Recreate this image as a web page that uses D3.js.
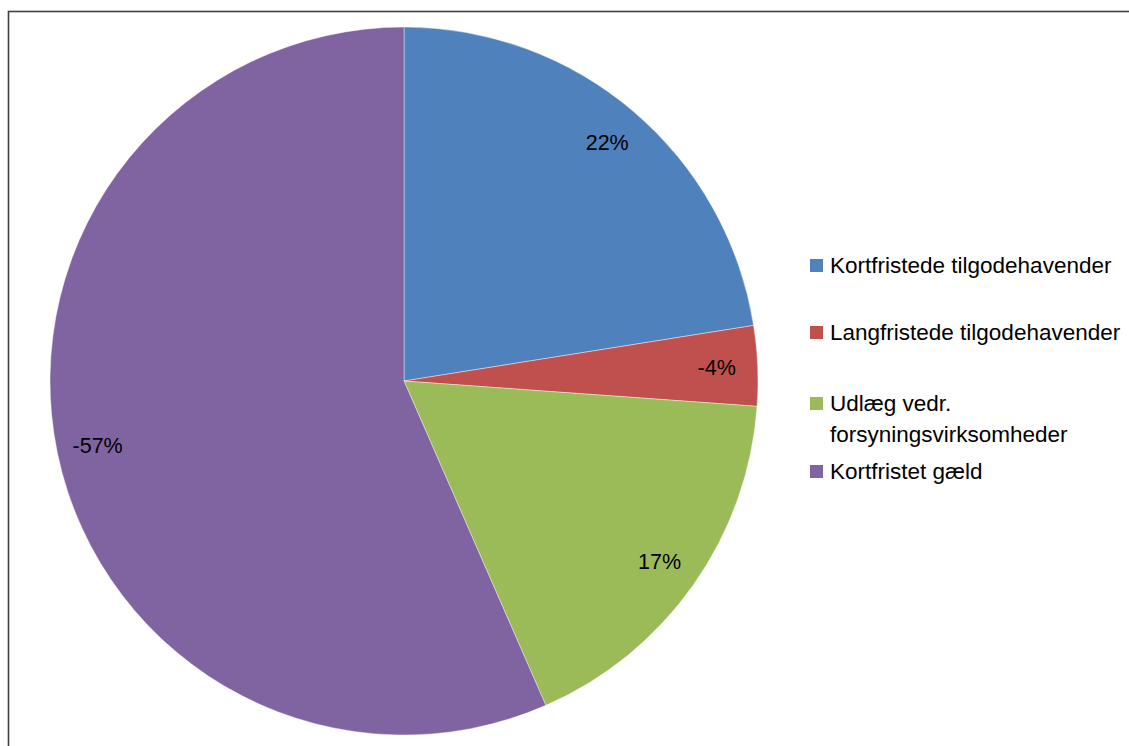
<!DOCTYPE html>
<html>
<head>
<meta charset="utf-8">
<script src="https://cdn.jsdelivr.net/npm/d3@7"></script>
<style>
  html, body { margin: 0; padding: 0; background: #fff; }
  svg { display: block; font-family: "Liberation Sans", Arial, sans-serif; }
</style>
</head>
<body>
<svg id="chart" width="1129" height="746"></svg>
<script>
var categories = ['Kortfristede tilgodehavender', 'Langfristede tilgodehavender', 'Udlæg vedr. forsyningsvirksomheder', 'Kortfristet gæld']
var legendLines = [['Kortfristede tilgodehavender'], ['Langfristede tilgodehavender'], ['Udlæg vedr.', 'forsyningsvirksomheder'], ['Kortfristet gæld']]
var values = [22.49, -3.65, 17.3, -56.56]
var colors = ['#4f81bd', '#c0504d', '#9bbb59', '#8064a2']

var svg = d3.select('#chart')

// chart frame (right and bottom run off the page)
svg.append('rect')
  .attr('x', 8.5).attr('y', 11.5)
  .attr('width', 1140).attr('height', 760)
  .attr('fill', 'none').attr('stroke', '#404040').attr('stroke-width', 1.6)

var cx = 404, cy = 381, r = 354

var pie = d3.pie().sort(null).value(d => Math.abs(d))
var arcs = pie(values)
var arc = d3.arc().innerRadius(0).outerRadius(r)
var labelArc = d3.arc().innerRadius(313).outerRadius(313)

var g = svg.append('g').attr('transform', `translate(${cx},${cy})`)

g.selectAll('path.slice')
  .data(arcs)
  .join('path')
  .attr('class', 'slice')
  .attr('d', arc)
  .attr('fill', (d, i) => colors[i])
  .attr('stroke', '#fff')
  .attr('stroke-opacity', 0.5)
  .attr('stroke-width', 0.8)

g.selectAll('text.lbl')
  .data(arcs)
  .join('text')
  .attr('class', 'lbl')
  .attr('transform', d => `translate(${labelArc.centroid(d)})`)
  .attr('text-anchor', 'middle')
  .attr('dy', '0.35em')
  .attr('font-size', 21.5)
  .attr('fill', '#000')
  .text(d => Math.round(d.data) + '%')

// legend
var legendY = [265, 332, 403, 471]
var leg = svg.append('g')
legendLines.forEach((lines, i) => {
  leg.append('rect')
    .attr('x', 810).attr('y', legendY[i] - 6)
    .attr('width', 13).attr('height', 13)
    .attr('fill', colors[i])
  var t = leg.append('text')
    .attr('x', 830).attr('y', legendY[i])
    .attr('font-size', 22.5)
    .attr('fill', '#000')
  lines.forEach((line, j) => {
    t.append('tspan').attr('x', 830).attr('dy', j == 0 ? '0.35em' : 31).text(line)
  })
})
</script>
</body>
</html>
